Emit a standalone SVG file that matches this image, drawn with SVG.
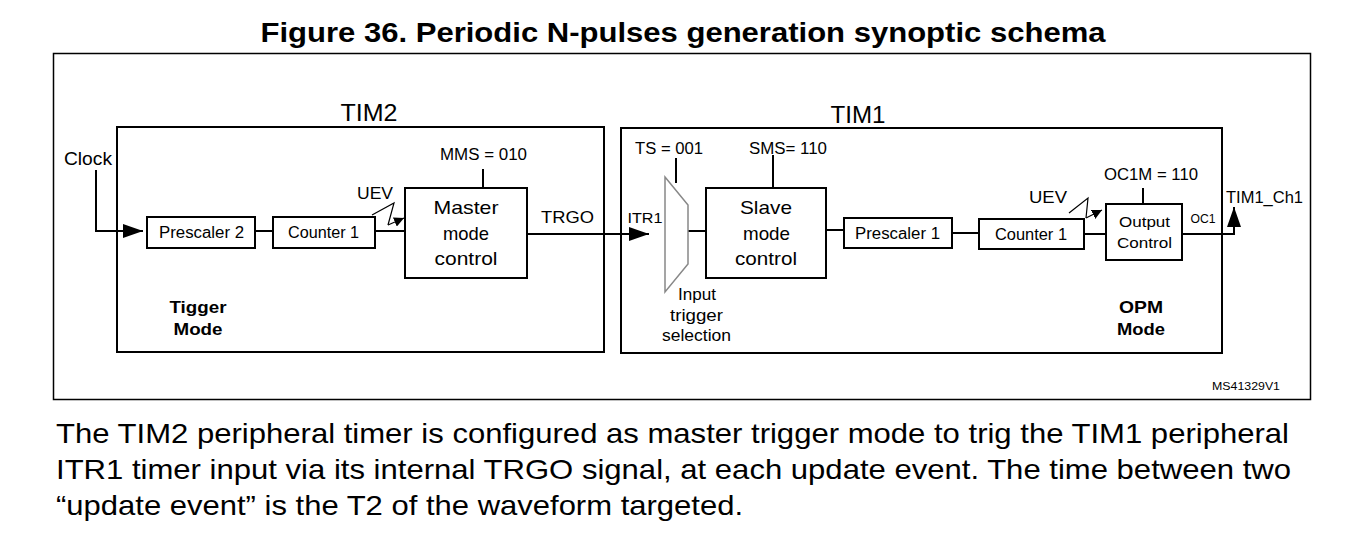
<svg xmlns="http://www.w3.org/2000/svg" width="1360" height="557" viewBox="0 0 1360 557">
<style>
text{font-family:"Liberation Sans",Arial,sans-serif;fill:#000}
.box{fill:#fff;stroke:#000;stroke-width:2}
.frame{fill:none;stroke:#000;stroke-width:2}
.ln{fill:none;stroke:#000;stroke-width:2}
.c{text-anchor:middle}
.b{font-weight:bold}
</style>
<defs>
<marker id="arr" viewBox="0 0 10 10" refX="10" refY="5" markerWidth="10" markerHeight="10" markerUnits="userSpaceOnUse" orient="auto"><path d="M0,0 L10,5 L0,10 Z" fill="#000"/></marker>
<marker id="arrL" viewBox="0 0 10 10" refX="10" refY="5" markerWidth="20" markerHeight="14" markerUnits="userSpaceOnUse" orient="auto" preserveAspectRatio="none"><path d="M0,0 L10,5 L0,10 Z" fill="#000"/></marker>
</defs>
<rect width="1360" height="557" fill="#fff"/>
<text x="683" y="42" class="c b" font-size="28" textLength="845" lengthAdjust="spacingAndGlyphs">Figure 36. Periodic N-pulses generation synoptic schema</text>
<rect x="53.5" y="53.5" width="1257" height="346" fill="none" stroke="#000" stroke-width="1.5"/>

<g id="tim2">
<rect x="117" y="127" width="487" height="225" class="frame"/>
<text x="369" y="121" class="c" font-size="23" textLength="57" lengthAdjust="spacingAndGlyphs">TIM2</text>
<text x="198" y="313" class="c b" font-size="17" textLength="57" lengthAdjust="spacingAndGlyphs">Tigger</text>
<text x="198" y="335" class="c b" font-size="17" textLength="49" lengthAdjust="spacingAndGlyphs">Mode</text>
</g>
<g id="tim1">
<rect x="621" y="128" width="601" height="225" class="frame"/>
<text x="858" y="123" class="c" font-size="23" textLength="55" lengthAdjust="spacingAndGlyphs">TIM1</text>
<text x="1141" y="313" class="c b" font-size="17" textLength="44" lengthAdjust="spacingAndGlyphs">OPM</text>
<text x="1141" y="335" class="c b" font-size="17" textLength="48" lengthAdjust="spacingAndGlyphs">Mode</text>
</g>

<g id="connectors">
<polyline points="96,170 96,231 143,231" class="ln" marker-end="url(#arrL)"/>
<line x1="255" y1="231" x2="273" y2="231" class="ln"/>
<line x1="375" y1="231" x2="405" y2="231" class="ln"/>
<polyline points="372,215 394,203 388,225" fill="none" stroke="#000" stroke-width="1.2"/>
<line x1="388" y1="225" x2="404" y2="218" stroke="#000" stroke-width="1.2" marker-end="url(#arr)"/>
<line x1="483" y1="169" x2="483" y2="188" class="ln"/>
<line x1="527" y1="234" x2="649" y2="234" class="ln" marker-end="url(#arrL)"/>
<line x1="676" y1="158" x2="676" y2="183" class="ln"/>
<line x1="688" y1="231" x2="706" y2="231" class="ln"/>
<line x1="773" y1="155" x2="773" y2="188" class="ln"/>
<line x1="826" y1="230" x2="844" y2="230" class="ln"/>
<line x1="952" y1="233" x2="979" y2="233" class="ln"/>
<line x1="1084" y1="234" x2="1106" y2="234" class="ln"/>
<polyline points="1069,213 1088,198 1086,218" fill="none" stroke="#000" stroke-width="1.2"/>
<line x1="1086" y1="218" x2="1102" y2="210" stroke="#000" stroke-width="1.2" marker-end="url(#arr)"/>
<line x1="1143" y1="188" x2="1143" y2="204" class="ln"/>
<polyline points="1182,234 1234,234 1234,207" class="ln" marker-end="url(#arrL)"/>
</g>

<g id="clock"><text x="64" y="165" font-size="18" textLength="48" lengthAdjust="spacingAndGlyphs">Clock</text></g>
<g id="prescaler2"><rect x="147" y="217" width="108" height="31" class="box"/><text x="201.5" y="238" class="c" font-size="16" textLength="85" lengthAdjust="spacingAndGlyphs">Prescaler 2</text></g>
<g id="counter1a"><rect x="273" y="217" width="102" height="31" class="box"/><text x="323.5" y="238" class="c" font-size="16" textLength="71" lengthAdjust="spacingAndGlyphs">Counter 1</text></g>
<g id="uev1"><text x="357" y="199" font-size="17" textLength="36" lengthAdjust="spacingAndGlyphs">UEV</text></g>
<g id="master"><rect x="405" y="188" width="122" height="90" class="box"/>
<text x="466" y="214" class="c" font-size="19" textLength="65" lengthAdjust="spacingAndGlyphs">Master</text>
<text x="466" y="240" class="c" font-size="19" textLength="46" lengthAdjust="spacingAndGlyphs">mode</text>
<text x="466" y="265" class="c" font-size="19" textLength="63" lengthAdjust="spacingAndGlyphs">control</text>
<text x="483.5" y="160" class="c" font-size="16" textLength="87" lengthAdjust="spacingAndGlyphs">MMS = 010</text></g>
<g id="trgo"><text x="541" y="223" font-size="17" textLength="53" lengthAdjust="spacingAndGlyphs">TRGO</text></g>
<g id="itr1"><text x="627.5" y="223" font-size="15" textLength="35" lengthAdjust="spacingAndGlyphs">ITR1</text></g>
<g id="mux"><polygon points="665,177 688,205 688,264 665,292" fill="#fff" stroke="#888" stroke-width="1.5"/>
<text x="669" y="154" class="c" font-size="16" textLength="68" lengthAdjust="spacingAndGlyphs">TS = 001</text>
<text x="697" y="300" class="c" font-size="16" textLength="38" lengthAdjust="spacingAndGlyphs">Input</text>
<text x="696.5" y="321" class="c" font-size="16" textLength="53" lengthAdjust="spacingAndGlyphs">trigger</text>
<text x="696.5" y="341" class="c" font-size="16" textLength="69" lengthAdjust="spacingAndGlyphs">selection</text></g>
<g id="slave"><rect x="706" y="188" width="120" height="90" class="box"/>
<text x="766" y="214" class="c" font-size="19" textLength="52" lengthAdjust="spacingAndGlyphs">Slave</text>
<text x="766.5" y="240" class="c" font-size="19" textLength="47" lengthAdjust="spacingAndGlyphs">mode</text>
<text x="766" y="265" class="c" font-size="19" textLength="62" lengthAdjust="spacingAndGlyphs">control</text>
<text x="788" y="154" class="c" font-size="16" textLength="78" lengthAdjust="spacingAndGlyphs">SMS= 110</text></g>
<g id="prescaler1"><rect x="844" y="218" width="108" height="30" class="box"/><text x="897.5" y="239" class="c" font-size="16" textLength="85" lengthAdjust="spacingAndGlyphs">Prescaler 1</text></g>
<g id="counter1b"><rect x="979" y="219" width="105" height="30" class="box"/><text x="1031" y="240" class="c" font-size="16" textLength="72" lengthAdjust="spacingAndGlyphs">Counter 1</text></g>
<g id="uev2"><text x="1029" y="203" font-size="17" textLength="38" lengthAdjust="spacingAndGlyphs">UEV</text></g>
<g id="output"><rect x="1106" y="204" width="76" height="56" class="box"/>
<text x="1144.5" y="227" class="c" font-size="15" textLength="51" lengthAdjust="spacingAndGlyphs">Output</text>
<text x="1144.5" y="248" class="c" font-size="15" textLength="55" lengthAdjust="spacingAndGlyphs">Control</text>
<text x="1151" y="180" class="c" font-size="16" textLength="94" lengthAdjust="spacingAndGlyphs">OC1M = 110</text></g>
<g id="oc1"><text x="1190.5" y="223" font-size="12" textLength="25" lengthAdjust="spacingAndGlyphs">OC1</text></g>
<g id="tim1ch1"><text x="1226" y="203" font-size="16" textLength="77" lengthAdjust="spacingAndGlyphs">TIM1_Ch1</text></g>
<text x="1212" y="390" font-size="11" textLength="68" lengthAdjust="spacingAndGlyphs">MS41329V1</text>

<text x="56" y="443" font-size="28" textLength="1233" lengthAdjust="spacingAndGlyphs">The TIM2 peripheral timer is configured as master trigger mode to trig the TIM1 peripheral</text>
<text x="56" y="479" font-size="28" textLength="1235" lengthAdjust="spacingAndGlyphs">ITR1 timer input via its internal TRGO signal, at each update event. The time between two</text>
<text x="56" y="515" font-size="28" textLength="687" lengthAdjust="spacingAndGlyphs">“update event” is the T2 of the waveform targeted.</text>
</svg>
